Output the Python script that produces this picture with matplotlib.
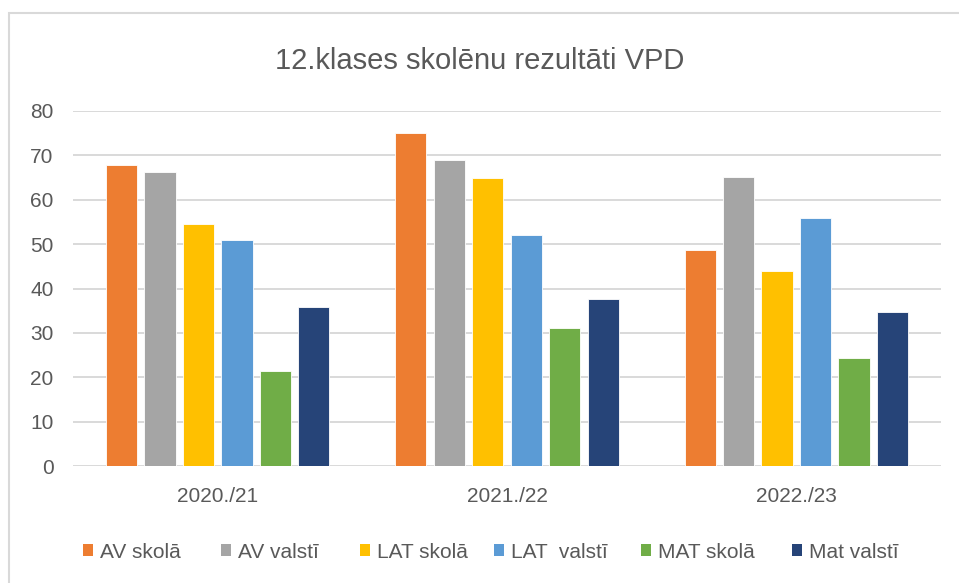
import matplotlib
matplotlib.use("Agg")
import matplotlib.pyplot as plt
import numpy as np
from matplotlib.patches import Rectangle, Patch

plt.rcParams['font.family'] = ['Liberation Sans', 'DejaVu Sans']

categories = ["2020./21", "2021./22", "2022./23"]
series_names = ["AV skolā", "AV valstī", "LAT skolā", "LAT  valstī", "MAT skolā", "Mat valstī"]
av_skola = [67.8, 75.0, 48.7]
av_valsti = [66.3, 68.9, 65.1]
lat_skola = [54.5, 64.9, 44.0]
lat_valsti = [51.0, 52.1, 55.9]
mat_skola = [21.5, 31.0, 24.4]
mat_valsti = [35.9, 37.7, 34.8]
yticks = [0, 10, 20, 30, 40, 50, 60, 70, 80]

series = [av_skola, av_valsti, lat_skola, lat_valsti, mat_skola, mat_valsti]
colors = ["#ED7D31", "#A5A5A5", "#FFC000", "#5B9BD5", "#70AD47", "#264478"]
TXT = "#595959"

W, H = 959, 583
fig = plt.figure(figsize=(W / 100, H / 100), dpi=100)
ax = fig.add_axes([73 / W, 1 - 466 / H, (941 - 73) / W, (466 - 111) / H])

x = np.arange(len(categories))
slot = 0.133
bw = 0.108
handles = []
for i, (vals, c, name) in enumerate(zip(series, colors, series_names)):
    ax.bar(x + (i - 2.5) * slot, vals, width=bw, color=c, label=name,
           edgecolor="white", linewidth=0.6, zorder=3)
    handles.append(Patch(facecolor=c, edgecolor="none", label=name))

ax.set_xlim(-0.5, len(categories) - 0.5)
ax.set_ylim(0, 80)
ax.set_yticks(yticks)
ax.set_xticks(x)
ax.set_xticklabels(categories)
for s in ax.spines.values():
    s.set_visible(False)
ax.grid(axis="y", color="#D9D9D9", linewidth=1.4, zorder=0)
ax.tick_params(axis="both", length=0, colors=TXT, labelsize=15)
ax.tick_params(axis="x", pad=15)
ax.tick_params(axis="y", pad=14)

fig.text(0.5, 1 - 61 / H, "12.klases skolēnu rezultāti VPD", ha="center", va="center",
         fontsize=21, color=TXT)

leg_x = [83, 221, 360, 494, 641, 792]
for hx, h in zip(leg_x, handles):
    fig.legend(handles=[h], loc="center left", bbox_to_anchor=(hx / W, 1 - 552 / H),
               frameon=False, fontsize=15, handlelength=0.5, handleheight=0.5,
               handletextpad=0.3, borderpad=0, borderaxespad=0, labelcolor=TXT)

fig.patches.append(Rectangle((9 / W, -0.1), 1.2, 1.1 - 13 / H, transform=fig.transFigure,
                             fill=False, edgecolor="#D9D9D9", linewidth=1.5))

fig.savefig("out.png", dpi=100)
